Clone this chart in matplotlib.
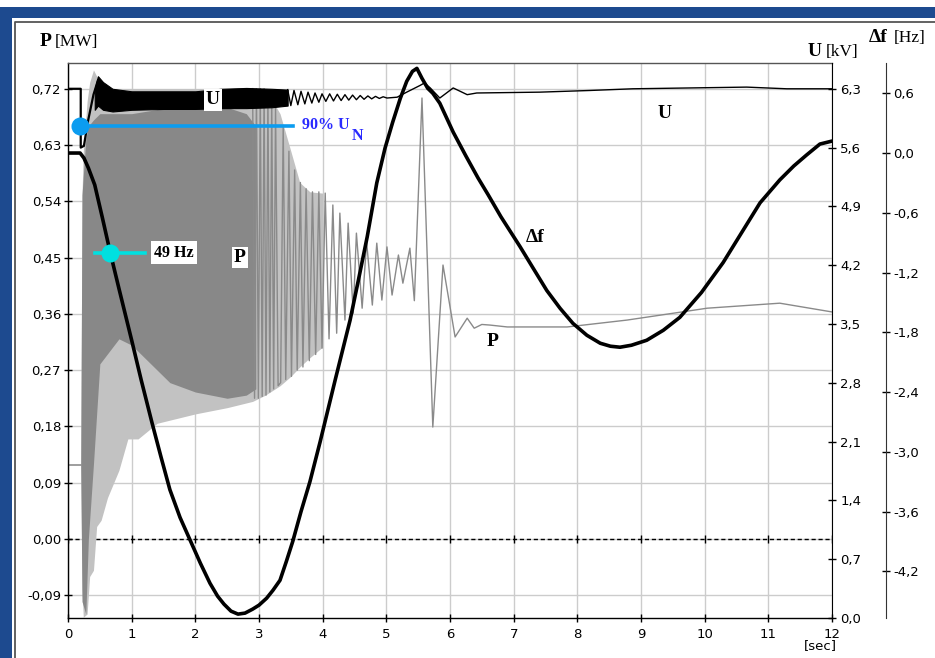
import matplotlib
matplotlib.use("Agg")
import matplotlib.pyplot as plt
from matplotlib.patches import Rectangle
from matplotlib.lines import Line2D

W, H, DPI = 935, 658, 100

# ---------------- data ----------------
x_ticks = [0, 1, 2, 3, 4, 5, 6, 7, 8, 9, 10, 11, 12]
x_tick_labels = [str(v) for v in x_ticks]
p_ticks = [-0.09, 0.0, 0.09, 0.18, 0.27, 0.36, 0.45, 0.54, 0.63, 0.72]
p_tick_labels = ["-0,09", "0,00", "0,09", "0,18", "0,27", "0,36", "0,45", "0,54", "0,63", "0,72"]
u_ticks = [0.0, 0.7, 1.4, 2.1, 2.8, 3.5, 4.2, 4.9, 5.6, 6.3]
u_tick_labels = ["0,0", "0,7", "1,4", "2,1", "2,8", "3,5", "4,2", "4,9", "5,6", "6,3"]
df_ticks = [-4.2, -3.6, -3.0, -2.4, -1.8, -1.2, -0.6, 0.0, 0.6]
df_tick_labels = ["-4,2", "-3,6", "-3,0", "-2,4", "-1,8", "-1,2", "-0,6", "0,0", "0,6"]

# frequency deviation [Hz]
t_df = [0, 0.19, 0.25, 0.32, 0.42, 0.54, 0.66, 0.8, 1.0, 1.15, 1.32, 1.46, 1.6, 1.76, 1.92,
        2.08, 2.23, 2.35, 2.45, 2.56, 2.67, 2.78, 2.9, 3.0, 3.12, 3.22, 3.33, 3.43, 3.53,
        3.66, 3.8, 3.96, 4.2, 4.43, 4.56, 4.7, 4.85, 4.98, 5.1, 5.22, 5.32, 5.41, 5.48,
        5.56, 5.65, 5.73, 5.84, 6.05, 6.25, 6.44, 6.6, 6.8, 7.1, 7.3, 7.52, 7.73, 7.93,
        8.15, 8.36, 8.52, 8.67, 8.85, 9.09, 9.35, 9.61, 9.95, 10.29, 10.58, 10.87, 11.18,
        11.4, 11.6, 11.81, 12.0]
df = [0.0, 0.0, -0.05, -0.15, -0.32, -0.65, -0.99, -1.36, -1.88, -2.28, -2.71, -3.05, -3.38,
      -3.66, -3.89, -4.12, -4.32, -4.45, -4.53, -4.6, -4.63, -4.62, -4.58, -4.54, -4.47,
      -4.39, -4.29, -4.1, -3.9, -3.6, -3.3, -2.9, -2.27, -1.68, -1.28, -0.84, -0.3, 0.05,
      0.31, 0.55, 0.72, 0.82, 0.85, 0.75, 0.65, 0.6, 0.5, 0.21, -0.03, -0.25, -0.42, -0.64,
      -0.94, -1.15, -1.38, -1.56, -1.71, -1.83, -1.91, -1.94, -1.95, -1.93, -1.88, -1.78,
      -1.65, -1.4, -1.1, -0.8, -0.5, -0.27, -0.13, -0.02, 0.09, 0.12]

# active power [MW]
t_p_pre = [0.0, 0.2]
p_pre = [0.118, 0.118]
t_p_light = [0.2, 0.22, 0.24, 0.3, 0.34, 0.4, 0.45, 0.52, 0.62, 0.8, 0.94, 1.1, 1.4, 2.0,
             2.5, 2.9, 3.1, 3.33, 3.5, 3.64, 3.8, 4.0]
p_light_lo = [0.118, -0.08, -0.125, -0.12, -0.06, -0.05, 0.02, 0.03, 0.066, 0.11, 0.16,
              0.16, 0.185, 0.2, 0.21, 0.22, 0.23, 0.245, 0.26, 0.275, 0.29, 0.307]
p_light_hi = [0.118, 0.55, 0.62, 0.7, 0.73, 0.75, 0.74, 0.73, 0.72, 0.72, 0.72, 0.72, 0.72,
              0.72, 0.72, 0.72, 0.72, 0.68, 0.62, 0.57, 0.555, 0.553]
t_p_dark = [0.2, 0.22, 0.28, 0.32, 0.4, 0.5, 0.8, 1.0, 1.3, 1.6, 2.0, 2.5, 2.8, 2.95]
p_dark_lo = [0.118, -0.1, -0.12, 0.0, 0.12, 0.28, 0.32, 0.31, 0.28, 0.25, 0.235, 0.225,
             0.23, 0.24]
p_dark_hi = [0.118, 0.55, 0.64, 0.66, 0.67, 0.68, 0.68, 0.68, 0.685, 0.69, 0.69, 0.69, 0.68, 0.66]
t_p = [2.90, 2.93, 2.96, 2.99, 3.02, 3.05, 3.08, 3.11, 3.14, 3.17, 3.20, 3.23, 3.26, 3.30,
       3.34, 3.38, 3.42, 3.47, 3.51, 3.56, 3.60, 3.65, 3.69, 3.74, 3.79, 3.84, 3.89,
       3.94, 3.99, 4.04, 4.10, 4.16, 4.22, 4.27, 4.35, 4.40, 4.48, 4.53, 4.62, 4.69, 4.78,
       4.85, 4.93, 5.01, 5.09, 5.19, 5.26, 5.37, 5.44, 5.56, 5.73, 5.89, 6.08, 6.27, 6.38,
       6.5, 6.63, 6.9, 7.84, 8.78, 10.04, 11.18, 12.0]
p = [0.72, 0.225, 0.72, 0.225, 0.72, 0.228, 0.72, 0.23, 0.71, 0.235, 0.70, 0.24, 0.69, 0.245,
     0.25, 0.66, 0.255, 0.62, 0.26, 0.59, 0.27, 0.57, 0.275, 0.56, 0.285, 0.555, 0.295,
     0.555, 0.305, 0.553, 0.32, 0.534, 0.329, 0.521, 0.35, 0.505, 0.361, 0.489, 0.369, 0.475,
     0.374, 0.473, 0.382, 0.467, 0.39, 0.454, 0.409, 0.465, 0.381, 0.705, 0.179, 0.438, 0.323,
     0.353, 0.337, 0.343, 0.342, 0.339, 0.339, 0.35, 0.369, 0.377, 0.363]

# voltage [kV]
t_u_pre = [0.0, 0.2, 0.2, 0.25, 0.31, 0.4, 0.47]
u_pre = [6.3, 6.3, 5.6, 5.62, 5.9, 6.23, 6.4]
t_u_band = [0.42, 0.47, 0.55, 0.7, 1.0, 1.5, 2.0, 2.4, 2.8, 3.2, 3.45]
u_band_lo = [6.05, 6.1, 6.05, 6.03, 6.05, 6.06, 6.06, 6.07, 6.07, 6.08, 6.1]
u_band_hi = [6.3, 6.45, 6.38, 6.3, 6.27, 6.27, 6.27, 6.3, 6.31, 6.3, 6.29]
t_u = [3.45, 3.50, 3.55, 3.61, 3.66, 3.72, 3.77, 3.83, 3.88, 3.94, 3.99, 4.05, 4.11, 4.17,
       4.23, 4.29, 4.35, 4.41, 4.47, 4.53, 4.59, 4.65, 4.71, 4.77, 4.83, 4.89, 4.95, 5.01,
       5.17, 5.32, 5.53, 5.6, 5.69, 5.84, 6.05, 6.27, 6.42, 7.41, 8.2, 8.87, 10.66, 11.29, 12.0]
u = [6.29, 6.10, 6.28, 6.11, 6.27, 6.12, 6.26, 6.13, 6.25, 6.14, 6.24, 6.15, 6.24, 6.155,
     6.235, 6.16, 6.23, 6.165, 6.225, 6.17, 6.22, 6.175, 6.215, 6.18, 6.21, 6.185, 6.205,
     6.19, 6.2, 6.26, 6.34, 6.37, 6.31, 6.19, 6.31, 6.23, 6.25, 6.26, 6.28, 6.3, 6.32, 6.3, 6.3]

# markers
mark_90_t, mark_90_u, mark_90_end = 0.19, 5.86, 3.53
mark_49_t, mark_49_df, mark_49_span = 0.66, -1.0, (0.42, 1.21)

SERIF = ["Liberation Serif", "DejaVu Serif"]
SANS = ["DejaVu Sans"]

fig = plt.figure(figsize=(W / DPI, H / DPI), dpi=DPI)
fig.patch.set_facecolor("white")

def fx(px):
    return px / W

def fy(py):
    return 1 - py / H

# frame
blue = "#1d4a8f"
fig.add_artist(Rectangle((0, fy(18)), 1, fy(7) - fy(18), transform=fig.transFigure,
                         fc=blue, ec="none"))
fig.add_artist(Rectangle((0, 0), fx(12), fy(18), transform=fig.transFigure, fc=blue, ec="none"))
fig.add_artist(Line2D([fx(15), fx(15), 1], [0, fy(22), fy(22)], transform=fig.transFigure,
                      color="#555555", lw=1.3))

L, R, T, B = 68, 832, 63, 618
ax = fig.add_axes([fx(L), fy(B), fx(R) - fx(L), fy(T) - fy(B)])
ax.set_facecolor("white")
ax.set_xlim(0, 12)
ax.set_ylim(-0.1263, 0.761)
axu = ax.twinx()
axu.set_ylim(0, 6.607)
axf = ax.twinx()
axf.set_ylim(-4.669, 0.904)
axf.spines["right"].set_position(("outward", 54 * 0.72))

for a in (axu, axf):
    for s in ("left", "top", "bottom"):
        a.spines[s].set_visible(False)
ax.spines["right"].set_visible(False)
ax.spines["top"].set_color("#555555")
ax.spines["top"].set_linewidth(1.0)
for s in ("left", "bottom"):
    ax.spines[s].set_color("black")
    ax.spines[s].set_linewidth(1.0)
axu.spines["right"].set_color("black")
axf.spines["right"].set_color("#333333")

ax.set_xticks(x_ticks)
ax.set_xticklabels(x_tick_labels, family=SANS, fontsize=9.5)
ax.set_yticks(p_ticks)
ax.set_yticklabels(p_tick_labels, family=SANS, fontsize=9.5)
axu.set_yticks(u_ticks)
axu.set_yticklabels(u_tick_labels, family=SANS, fontsize=9.5)
axf.set_yticks(df_ticks)
axf.set_yticklabels(df_tick_labels, family=SANS, fontsize=9.5)
ax.tick_params(axis="x", direction="inout", length=6, width=1, pad=4, colors="black")
ax.tick_params(axis="y", direction="inout", length=6, width=1, pad=2, colors="black")
axu.tick_params(axis="y", direction="inout", length=6, width=1, pad=3)
axf.tick_params(axis="y", direction="inout", length=6, width=1, pad=2)

ax.grid(True, color="#cccccc", lw=1.0)
ax.set_axisbelow(True)
ax.axhline(0, color="black", lw=1.0, ls=(0, (3, 2)), zorder=1.5)
ax.plot(x_ticks, [0] * len(x_ticks), ls="none", marker="|", ms=6, mew=1, color="black",
        zorder=1.6)

# P
ax.fill_between(t_p_light, p_light_lo, p_light_hi, color="#c2c2c2", lw=0, zorder=2)
ax.fill_between(t_p_dark, p_dark_lo, p_dark_hi, color="#888888", lw=0, zorder=2.1)
ax.plot(t_p_pre, p_pre, color="#8e8e8e", lw=1.2, zorder=2.2)
ax.plot(t_p, p, color="#8a8a8a", lw=1.0, zorder=2.2)

# U
axu.plot(t_u_pre, u_pre, color="black", lw=1.6, zorder=3)
axu.fill_between(t_u_band, u_band_lo, u_band_hi, color="black", lw=0.8, zorder=3)
axu.plot(t_u, u, color="black", lw=1.0, zorder=3)

# delta f
axf.plot(t_df, df, color="black", lw=2.6, solid_capstyle="round", solid_joinstyle="round",
         zorder=4)

# markers
axf.plot([mark_90_t, mark_90_end], [mark_90_u, mark_90_u], color="#0b9cf0", lw=2.6,
         transform=axu.transData, zorder=6)
axf.plot([mark_90_t], [mark_90_u], marker="o", ms=13, color="#0b9cf0", mew=0,
         transform=axu.transData, zorder=6)
axf.plot(list(mark_49_span), [mark_49_df, mark_49_df], color="#00e0e0", lw=2.6, zorder=6)
axf.plot([mark_49_t], [mark_49_df], marker="o", ms=13, color="#00e0e0", mew=0, zorder=6)

def dx(px):
    return (px - L) / (R - L) * 12

bold = dict(family=SERIF, fontweight="bold")
box = dict(boxstyle="square,pad=0.12", fc="white", ec="none")
axf.text(dx(302), 5.87, "90% U", color="#2a2aff", fontsize=11.5,
         va="center", ha="left", transform=axu.transData, zorder=7, **bold)
axf.text(dx(352), 5.74, "N", color="#2a2aff", fontsize=11.5, va="center", ha="left",
         transform=axu.transData, zorder=7, **bold)
axf.text(dx(174), -1.0, "49 Hz", color="black", fontsize=11.5, va="center", ha="center",
         bbox=dict(boxstyle="square,pad=0.2", fc="white", ec="none"), zorder=7, **bold)
axf.text(dx(213), 6.17, "U", fontsize=14, va="center", ha="center", bbox=box,
         transform=axu.transData, zorder=7, **bold)
axf.text(dx(665), 6.0, "U", fontsize=14, va="center", ha="center",
         transform=axu.transData, zorder=7, **bold)
axf.text(dx(240), 0.45, "P", fontsize=14, va="center", ha="center", bbox=box,
         transform=ax.transData, zorder=7, **bold)
axf.text(dx(493), 0.315, "P", fontsize=14, va="center", ha="center",
         transform=ax.transData, zorder=7, **bold)
axf.text(dx(535), -0.85, "\u0394f", fontsize=14, va="center", ha="center", zorder=7, **bold)

# axis titles
fig.text(fx(40), fy(42), "P", fontsize=14, va="center", ha="left", **bold)
fig.text(fx(55), fy(42), "[MW]", fontsize=12.5, va="center", ha="left", family=SERIF)
fig.text(fx(808), fy(52), "U", fontsize=14, va="center", ha="left", **bold)
fig.text(fx(826), fy(52), "[kV]", fontsize=12.5, va="center", ha="left", family=SERIF)
fig.text(fx(869), fy(38), "\u0394f", fontsize=14, va="center", ha="left", **bold)
fig.text(fx(894), fy(38), "[Hz]", fontsize=12.5, va="center", ha="left", family=SERIF)
fig.text(fx(837), fy(646), "[sec]", fontsize=9.5, va="center", ha="right", family=SANS)

fig.savefig("out.png", dpi=DPI, facecolor="white")
